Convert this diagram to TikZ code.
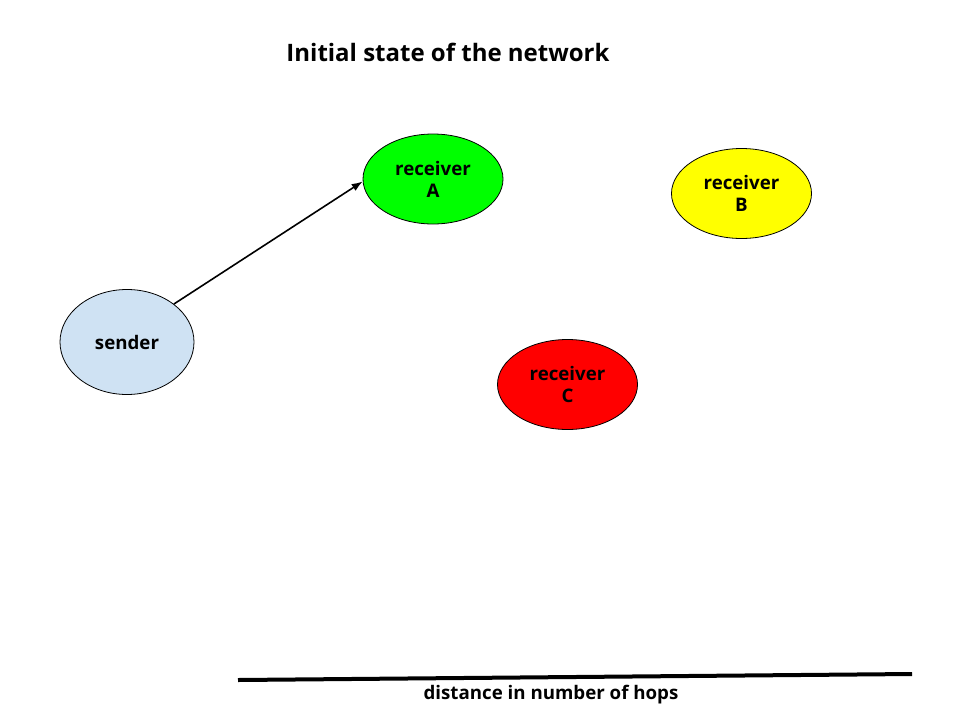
\documentclass[tikz,border=0pt]{standalone}
\usepackage{fontspec}
\setmainfont{Open Sans}
\usepackage{tikz}
\usetikzlibrary{arrows.meta,positioning,shapes.geometric}
\definecolor{senderblue}{RGB}{207,226,243}
\definecolor{nodegreen}{RGB}{0,255,0}
\definecolor{nodeyellow}{RGB}{255,255,0}
\definecolor{nodered}{RGB}{255,0,0}

\begin{document}
\begin{tikzpicture}[x=1pt,y=-1pt,
    every node/.style={font=\fontsize{18.7}{22}\selectfont\bfseries,align=center},
    peer/.style={draw,ellipse,line width=0.8pt,inner sep=0pt,minimum width=140pt,minimum height=90pt}]
  \useasboundingbox (0,0) rectangle (960,720);
  \node[font=\fontsize{24}{28}\selectfont\bfseries] (title) at (448,52) {Initial state of the network};
  \node[peer,fill=senderblue,minimum width=134pt,minimum height=105pt] (sender) at (127,342) {sender};
  \node[peer,fill=nodegreen] (recA) at (433,179) {receiver\\A};
  \node[peer,fill=nodeyellow] (recB) at (741.5,193.5) {receiver\\B};
  \node[peer,fill=nodered] (recC) at (567.5,384.5) {receiver\\C};
  \draw[-{Latex[length=11pt,width=8pt]},line width=1.6pt] (sender.39) -- (recA.182);
  % distance axis
  \coordinate (axisL) at (238,680);
  \coordinate (axisR) at (912,674);
  \draw[line width=4pt] (axisL) -- (axisR);
  \node (axislabel) at (551,695) {distance in number of hops};
\end{tikzpicture}
\end{document}
